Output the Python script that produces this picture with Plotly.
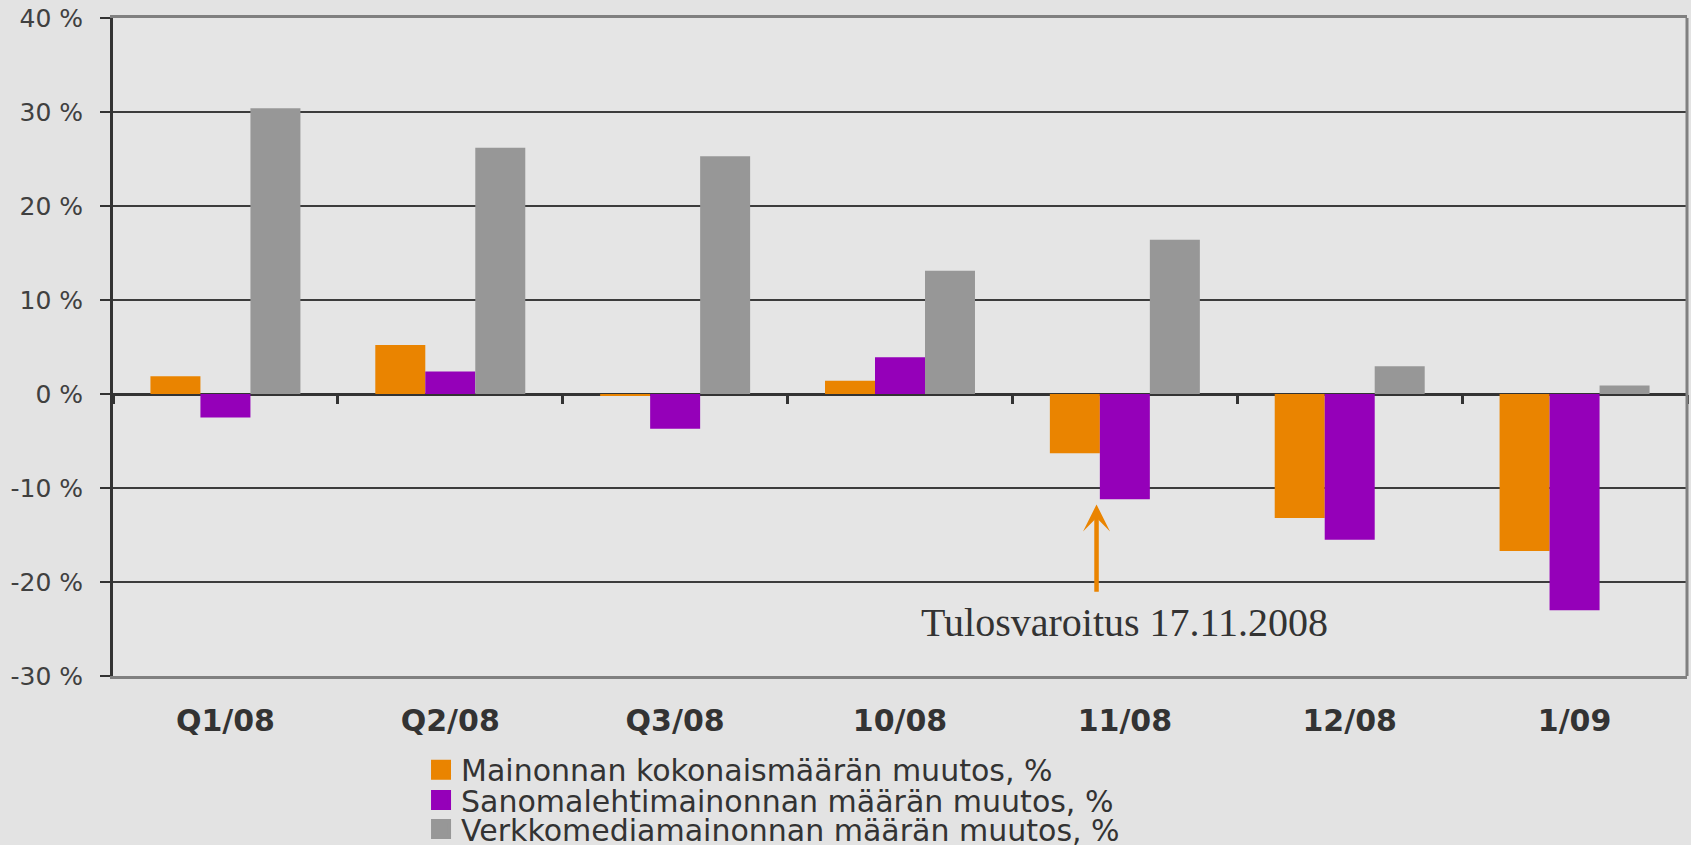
import plotly.graph_objects as go

categories = ["Q1/08", "Q2/08", "Q3/08", "10/08", "11/08", "12/08", "1/09"]
total_change = [1.9, 5.2, -0.2, 1.4, -6.3, -13.2, -16.7]
newspaper_change = [-2.5, 2.4, -3.7, 3.9, -11.2, -15.5, -23.0]
online_change = [30.4, 26.2, 25.3, 13.1, 16.4, 2.95, 0.9]

series_names = [
    "Mainonnan kokonaismäärän muutos, %",
    "Sanomalehtimainonnan määrän muutos, %",
    "Verkkomediamainonnan määrän muutos, %",
]
series_colors = ["#EA8400", "#9500B9", "#979797"]

y_tick_vals = [-30, -20, -10, 0, 10, 20, 30, 40]
y_tick_text = [f"{v} %" for v in y_tick_vals]

annotation_text = "Tulosvaroitus 17.11.2008"

fig = go.Figure()
legend_ids = ["legend", "legend2", "legend3"]
series_values = [total_change, newspaper_change, online_change]
for name, vals, col in zip(series_names, series_values, series_colors):
    fig.add_trace(go.Bar(x=categories, y=vals, name=name, showlegend=False,
                         marker=dict(color=col, line=dict(width=0))))

# legend entries (larger square swatches), one legend per row
for name, col, lg in zip(series_names, series_colors, legend_ids):
    fig.add_trace(go.Scatter(x=[None], y=[None], name=name, mode="markers", legend=lg,
                             marker=dict(symbol="square", size=16, color=col,
                                         line=dict(width=4, color=col))))

# helper (invisible) trace so the boundary tick axis on the zero line has categories
fig.add_trace(go.Scatter(x=categories, y=online_change, xaxis="x2", mode="markers",
                         marker=dict(opacity=0), showlegend=False, hoverinfo="skip"))

legend_common = dict(x=0.1957, xanchor="left", yanchor="middle", bgcolor="rgba(0,0,0,0)",
                     font=dict(family="DejaVu Sans", size=30, color="#333333"),
                     itemclick=False, itemsizing="trace")

fig.update_layout(
    width=1691, height=845,
    paper_bgcolor="#e3e3e3", plot_bgcolor="#e5e5e5",
    margin=dict(l=113, r=4, t=18, b=169, autoexpand=False),
    barmode="group", bargap=0.333, bargroupgap=0,
    legend=dict(y=-0.1423, **legend_common),
    legend2=dict(y=-0.1884, **legend_common),
    legend3=dict(y=-0.2325, **legend_common),
    xaxis=dict(type="category", categoryorder="array", categoryarray=categories,
               range=[-0.5, 6.5], showgrid=False, ticks="", automargin=False,
               showline=True, mirror=True, linecolor="#808080", linewidth=3,
               tickfont=dict(family="DejaVu Sans", size=30, color="#333333", weight="bold"),
               ticklabelstandoff=16),
    xaxis2=dict(type="category", categoryorder="array", categoryarray=categories,
                range=[-0.5, 6.5], overlaying="x", anchor="free", position=(0 + 30) / 70,
                showgrid=False, showline=False, showticklabels=False,
                ticks="outside", tickson="boundaries", ticklen=9, tickwidth=3, tickcolor="#333333"),
    yaxis=dict(range=[-30, 40], tickvals=y_tick_vals, ticktext=y_tick_text, automargin=False,
               showgrid=True, gridcolor="#3c3c3c", gridwidth=2,
               zeroline=True, zerolinecolor="#333333", zerolinewidth=3,
               showline=True, linecolor="#333333", linewidth=3,
               ticks="outside", ticklen=10, tickwidth=2, tickcolor="#333333",
               tickfont=dict(family="DejaVu Sans", size=25, color="#404040"),
               ticklabelstandoff=12),
    shapes=[dict(type="line", xref="paper", yref="paper", x0=1, x1=1, y0=0, y1=1,
                 line=dict(color="#808080", width=3), layer="above")],
    annotations=[
        dict(x=3.874, y=-11.75, ax=3.874, ay=-21.2, xref="x", yref="y", axref="x", ayref="y",
             text="", showarrow=True, arrowhead=3, arrowsize=1, arrowwidth=4.5,
             arrowcolor="#EA8400"),
        dict(x=4, y=-24.3, xref="x", yref="y", text=annotation_text, showarrow=False,
             xanchor="center", yanchor="middle",
             font=dict(family="Liberation Serif", size=40, color="#333333")),
    ],
)

fig.write_html("out.html", config={"displayModeBar": False},
               post_script="document.body.style.margin='0';document.body.style.overflow='hidden';")
